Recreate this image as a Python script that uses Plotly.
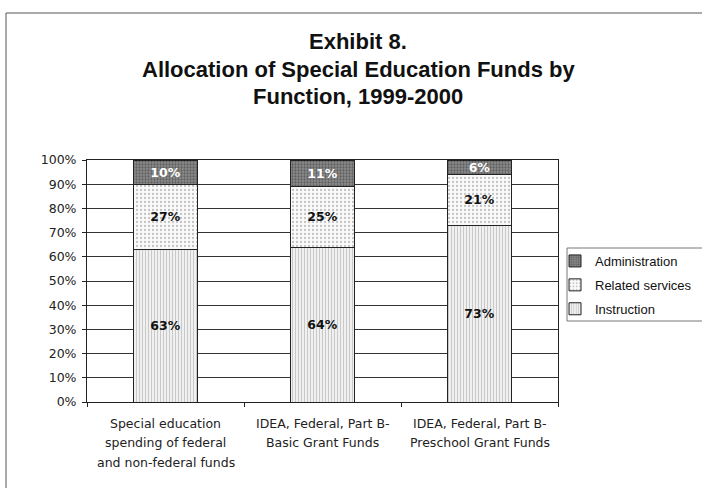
import plotly.graph_objects as go

categories = ["Special education spending of federal and non-federal funds",
              "IDEA, Federal, Part B-Basic Grant Funds",
              "IDEA, Federal, Part B-Preschool Grant Funds"]
category_label_lines = [["Special education", "spending of federal", "and non-federal funds"],
                        ["IDEA, Federal, Part B-", "Basic Grant Funds"],
                        ["IDEA, Federal, Part B-", "Preschool Grant Funds"]]
instruction = [63, 64, 73]
related = [27, 25, 21]
administration = [10, 11, 6]
y_ticks = [0, 10, 20, 30, 40, 50, 60, 70, 80, 90, 100]
y_tick_labels = [f"{v}%" for v in y_ticks]
title_lines = ["Exhibit 8.", "Allocation of Special Education Funds by", "Function, 1999-2000"]

SMALL = "DejaVu Sans, Arial, sans-serif"
BIG = "Liberation Sans, Arial, sans-serif"

W, H = 702, 488
L, R, T, B = 87, 558, 160, 402
PW, PH = R - L, B - T


def px(x):
    return (x - L) / PW


def py(y):
    return (B - y) / PH


fig = go.Figure()
series = [
    ("Instruction", instruction, dict(color="#f0f0f0", pattern=dict(shape="|", fgcolor="#999999", bgcolor="#f0f0f0", size=3, solidity=0.3)), "#111", 3),
    ("Related services", related, dict(color="#fafafa", pattern=dict(shape=".", fgcolor="#8a8a8a", bgcolor="#fafafa", size=4, solidity=0.25)), "#111", 2),
    ("Administration", administration, dict(color="#7a7a7a", pattern=dict(shape=".", fgcolor="#333333", bgcolor="#8c8c8c", size=3, solidity=0.45)), "#ffffff", 1),
]
for name, vals, mk, tc, rank in series:
    fig.add_trace(go.Bar(
        x=categories, y=vals, name=name, legendgroup=name, legendrank=rank,
        marker=dict(line=dict(color="#222", width=1), **mk),
        text=[f"{v}%" for v in vals], textposition="inside", insidetextanchor="middle",
        constraintext="none", textangle=0,
        textfont=dict(family=SMALL, size=12.5, color=tc, weight="bold"),
        width=0.41,
    ))

fig.update_layout(
    barmode="stack",
    width=W, height=H,
    margin=dict(l=L, r=W - R, t=T, b=H - B, autoexpand=False),
    paper_bgcolor="white", plot_bgcolor="white",
    font=dict(family=SMALL, color="#222"),
    uniformtext=dict(minsize=12, mode="show"),
    legend=dict(x=px(555), y=py(246), xanchor="left", yanchor="top",
                traceorder="grouped", borderwidth=0, tracegroupgap=4,
                font=dict(family=BIG, size=13, color="#111"), bgcolor="rgba(0,0,0,0)",
                itemwidth=30),
    showlegend=True,
)
fig.update_yaxes(range=[0, 100], tickvals=y_ticks, ticktext=y_tick_labels,
                 showgrid=True, gridcolor="#333", gridwidth=1,
                 showline=True, linecolor="#222", mirror=True,
                 ticks="outside", ticklen=4, tickcolor="#222", ticklabelstandoff=3,
                 tickfont=dict(size=12.5, color="#222"), fixedrange=True)
fig.update_xaxes(showline=True, linecolor="#222", mirror=True,
                 ticks="outside", tickson="boundaries", ticklen=4, tickcolor="#222",
                 showticklabels=False, fixedrange=True)

# title, one annotation per line
for line, yc in zip(title_lines, [41, 70, 96]):
    fig.add_annotation(text=f"<b>{line}</b>", xref="paper", yref="paper",
                       x=px(358), y=py(yc), xanchor="center", yanchor="middle",
                       showarrow=False, font=dict(family=BIG, size=22, color="#111"))

# category labels, one annotation per line
for cat, lines in zip(categories, category_label_lines):
    for j, line in enumerate(lines):
        fig.add_annotation(text=line, x=cat, xref="x", yref="paper",
                           y=py(423 + j * 19.5), xanchor="center", yanchor="middle",
                           showarrow=False, font=dict(family=SMALL, size=12.5, color="#222"))

# legend box
fig.add_shape(type="rect", xref="paper", yref="paper",
              x0=px(567), x1=px(W + 5), y0=py(321), y1=py(248),
              line=dict(color="#777", width=1), layer="below")

# outer frame of the exhibit
fig.add_shape(type="rect", xref="paper", yref="paper",
              x0=px(6), x1=px(W + 20), y0=py(H + 20), y1=py(13),
              line=dict(color="#555", width=1), layer="below")

fig.write_html("out.html", config={"displayModeBar": False},
               post_script="document.body.style.margin='0';document.body.style.padding='0';")
